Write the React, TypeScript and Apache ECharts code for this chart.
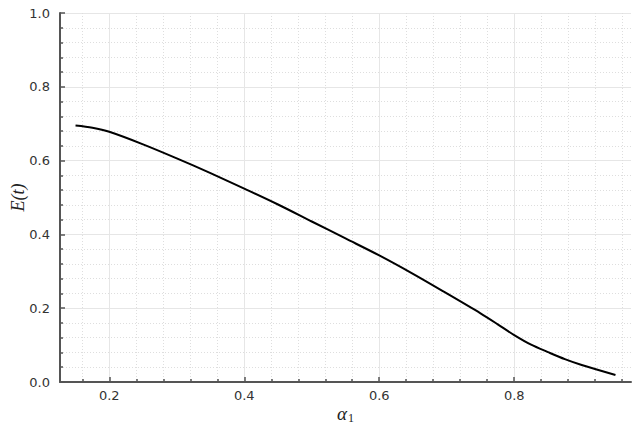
import React, { useEffect, useRef } from "react";
import * as echarts from "echarts";

const alphaValues = [0.15, 0.175, 0.2, 0.25, 0.3, 0.35, 0.4, 0.45, 0.5, 0.55, 0.6, 0.65, 0.7, 0.75, 0.775, 0.8, 0.825, 0.85, 0.875, 0.9, 0.95];
const energyValues = [0.695, 0.689, 0.678, 0.644, 0.606, 0.566, 0.524, 0.481, 0.435, 0.389, 0.343, 0.293, 0.240, 0.186, 0.157, 0.127, 0.101, 0.081, 0.062, 0.046, 0.019];
const xMajorTicks = [0.2, 0.4, 0.6, 0.8];
const xMinorTicks = [0.16, 0.24, 0.28, 0.32, 0.36, 0.44, 0.48, 0.52, 0.56, 0.64, 0.68, 0.72, 0.76, 0.84, 0.88, 0.92, 0.96];

export default function App() {
  const ref = useRef<HTMLDivElement>(null);
  useEffect(() => {
    if (!ref.current) return;
    const chart = echarts.init(ref.current, null, { renderer: "svg" });
    const axisColor = "#555555";
    const labelStyle = { color: "#333333", fontFamily: "DejaVu Sans", fontSize: 13 };
    chart.setOption({
      animation: false,
      backgroundColor: "#ffffff",
      grid: { left: 60, right: 13, top: 13, bottom: 48, containLabel: false, outerBoundsMode: "none" },
      xAxis: [
        {
          type: "value",
          position: "bottom",
          min: 0.127,
          max: 0.973,
          axisLine: { show: true, onZero: false, lineStyle: { color: axisColor, width: 2 } },
          axisTick: { show: true, inside: true, length: 5, customValues: xMajorTicks, lineStyle: { color: axisColor, width: 1.5 } },
          axisLabel: { ...labelStyle, margin: 7, customValues: xMajorTicks, formatter: (v: number) => v.toFixed(1) },
          splitLine: { show: true, lineStyle: { color: "#e6e6e6", width: 1, type: "solid" } },
          name: "{a|α}{s|1}",
          nameLocation: "middle",
          nameMoveOverlap: false,
          nameGap: 20,
          nameTextStyle: {
            rich: {
              a: { fontFamily: "Liberation Serif", fontStyle: "italic", fontSize: 19, color: "#222" },
              s: { fontFamily: "Liberation Serif", fontSize: 12, color: "#222", padding: [10, 0, 0, 1] },
            },
          },
        },
        {
          type: "value",
          position: "bottom",
          min: 0.127,
          max: 0.973,
          axisLine: { show: false },
          axisTick: { show: true, inside: true, length: 3, customValues: xMinorTicks, lineStyle: { color: axisColor, width: 1.5 } },
          axisLabel: { show: false },
          splitLine: { show: true, lineStyle: { color: "#dedede", width: 1, type: [1, 2] } },
        },
      ],
      yAxis: {
        type: "value",
        min: 0,
        max: 1,
        interval: 0.2,
        axisLine: { show: true, lineStyle: { color: axisColor, width: 2 } },
        axisTick: { show: true, inside: true, length: 5, lineStyle: { color: axisColor, width: 1.5 } },
        minorTick: { show: true, splitNumber: 5, length: 3, lineStyle: { color: axisColor, width: 1.5 } },
        axisLabel: { ...labelStyle, margin: 10, formatter: (v: number) => v.toFixed(1) },
        splitLine: { show: true, lineStyle: { color: "#e6e6e6", width: 1 } },
        minorSplitLine: { show: true, lineStyle: { color: "#dedede", width: 1, type: [1, 2] } },
        name: "E(t)",
        nameLocation: "middle",
        nameMoveOverlap: false,
        nameGap: 33,
        nameTextStyle: { fontFamily: "Liberation Serif", fontStyle: "italic", fontSize: 18, color: "#222" },
      },
      series: [
        {
          type: "line",
          xAxisIndex: 0,
          data: alphaValues.map((x, i) => [x, energyValues[i]]),
          showSymbol: false,
          smooth: 0.3,
          lineStyle: { color: "#000000", width: 2 },
        },
      ],
    });
    return () => chart.dispose();
  }, []);
  return <div ref={ref} style={{ width: 644, height: 430, position: "absolute", left: 0, top: 0 }} />;
}
